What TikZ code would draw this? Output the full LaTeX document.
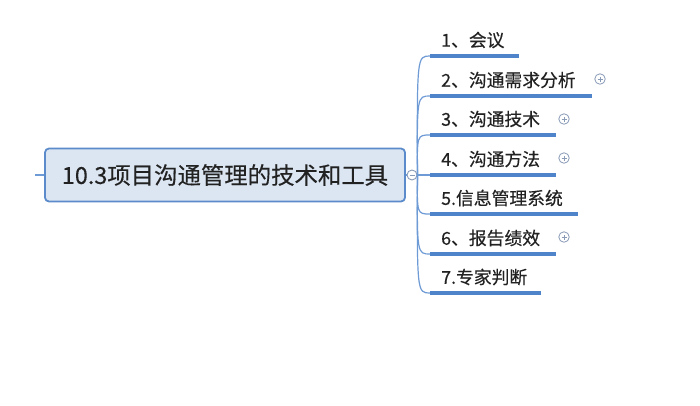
\documentclass[tikz,border=0pt]{standalone}
\usepackage{fontspec}
\setmainfont{Noto Sans CJK SC}
\newfontfamily\cjk[FakeBold=0.3]{Noto Sans CJK SC}
\definecolor{rootfill}{HTML}{DCE6F3}
\definecolor{rootdraw}{HTML}{5B8BCB}
\definecolor{linkc}{HTML}{6E9AD6}
\definecolor{barc}{HTML}{4F84CB}
\definecolor{txt}{HTML}{222222}
\definecolor{iconc}{HTML}{8A9BB8}
\begin{document}
\begin{tikzpicture}[x=1pt,y=-1pt,
  rootbox/.style={draw=rootdraw,fill=rootfill,line width=1.8pt,rounded corners=4pt,minimum width=360pt,minimum height=53pt,inner sep=0pt,font=\cjk\fontsize{23.4}{23.4}\selectfont,text=txt},
  childtxt/.style={anchor=west,inner sep=0pt,font=\cjk\fontsize{17.8}{17.8}\selectfont,text=txt},
  bar/.style={draw=barc,line width=3.2pt},
  link/.style={draw=linkc,line width=1.2pt},
  plusicon/.style={circle,draw=iconc,line width=0.8pt,minimum size=10.5pt,inner sep=0pt}]
\useasboundingbox (0,0) rectangle (700,405);
\fill[white] (0,0) rectangle (700,405);
\node[rootbox] (root) at (225,175) {10.3项目沟通管理的技术和工具};
\coordinate (stub) at (35,175);
\draw[link] (stub) -- (root.west);
\node[circle,draw=iconc,fill=white,line width=0.9pt,minimum size=10pt,inner sep=0pt] (col) at (412,175) {};
\draw[link] (root.east) -- (col.west);
\draw[iconc,line width=0.9pt] ([xshift=-2.5pt]col.center) -- ([xshift=2.5pt]col.center);
% children
\foreach \i/\y/\xe/\t in {1/56/519/{1、会议},2/96/592/{2、沟通需求分析},3/135/556/{3、沟通技术},4/175/556/{4、沟通方法},5/214/578/{5.信息管理系统},6/254/556/{6、报告绩效},7/293/541/{7.专家判断}}{
  \coordinate (s\i) at (430,\y);
  \coordinate (e\i) at (\xe,\y);
  \node[childtxt] (t\i) at (441,\y-16) {\t};
  \draw[bar] (s\i) -- (e\i);
  \draw[link] (col.east) .. controls (417,\y) .. (s\i);
}
\foreach \n/\x/\y in {p2/600/79,p3/564/119,p4/564/158,p6/564/237}{
  \node[plusicon] (\n) at (\x,\y) {};
  \draw[iconc,line width=0.9pt] ([xshift=-2.5pt]\n.center) -- ([xshift=2.5pt]\n.center);
  \draw[iconc,line width=0.9pt] ([yshift=-2.5pt]\n.center) -- ([yshift=2.5pt]\n.center);
}
\end{tikzpicture}
\end{document}
